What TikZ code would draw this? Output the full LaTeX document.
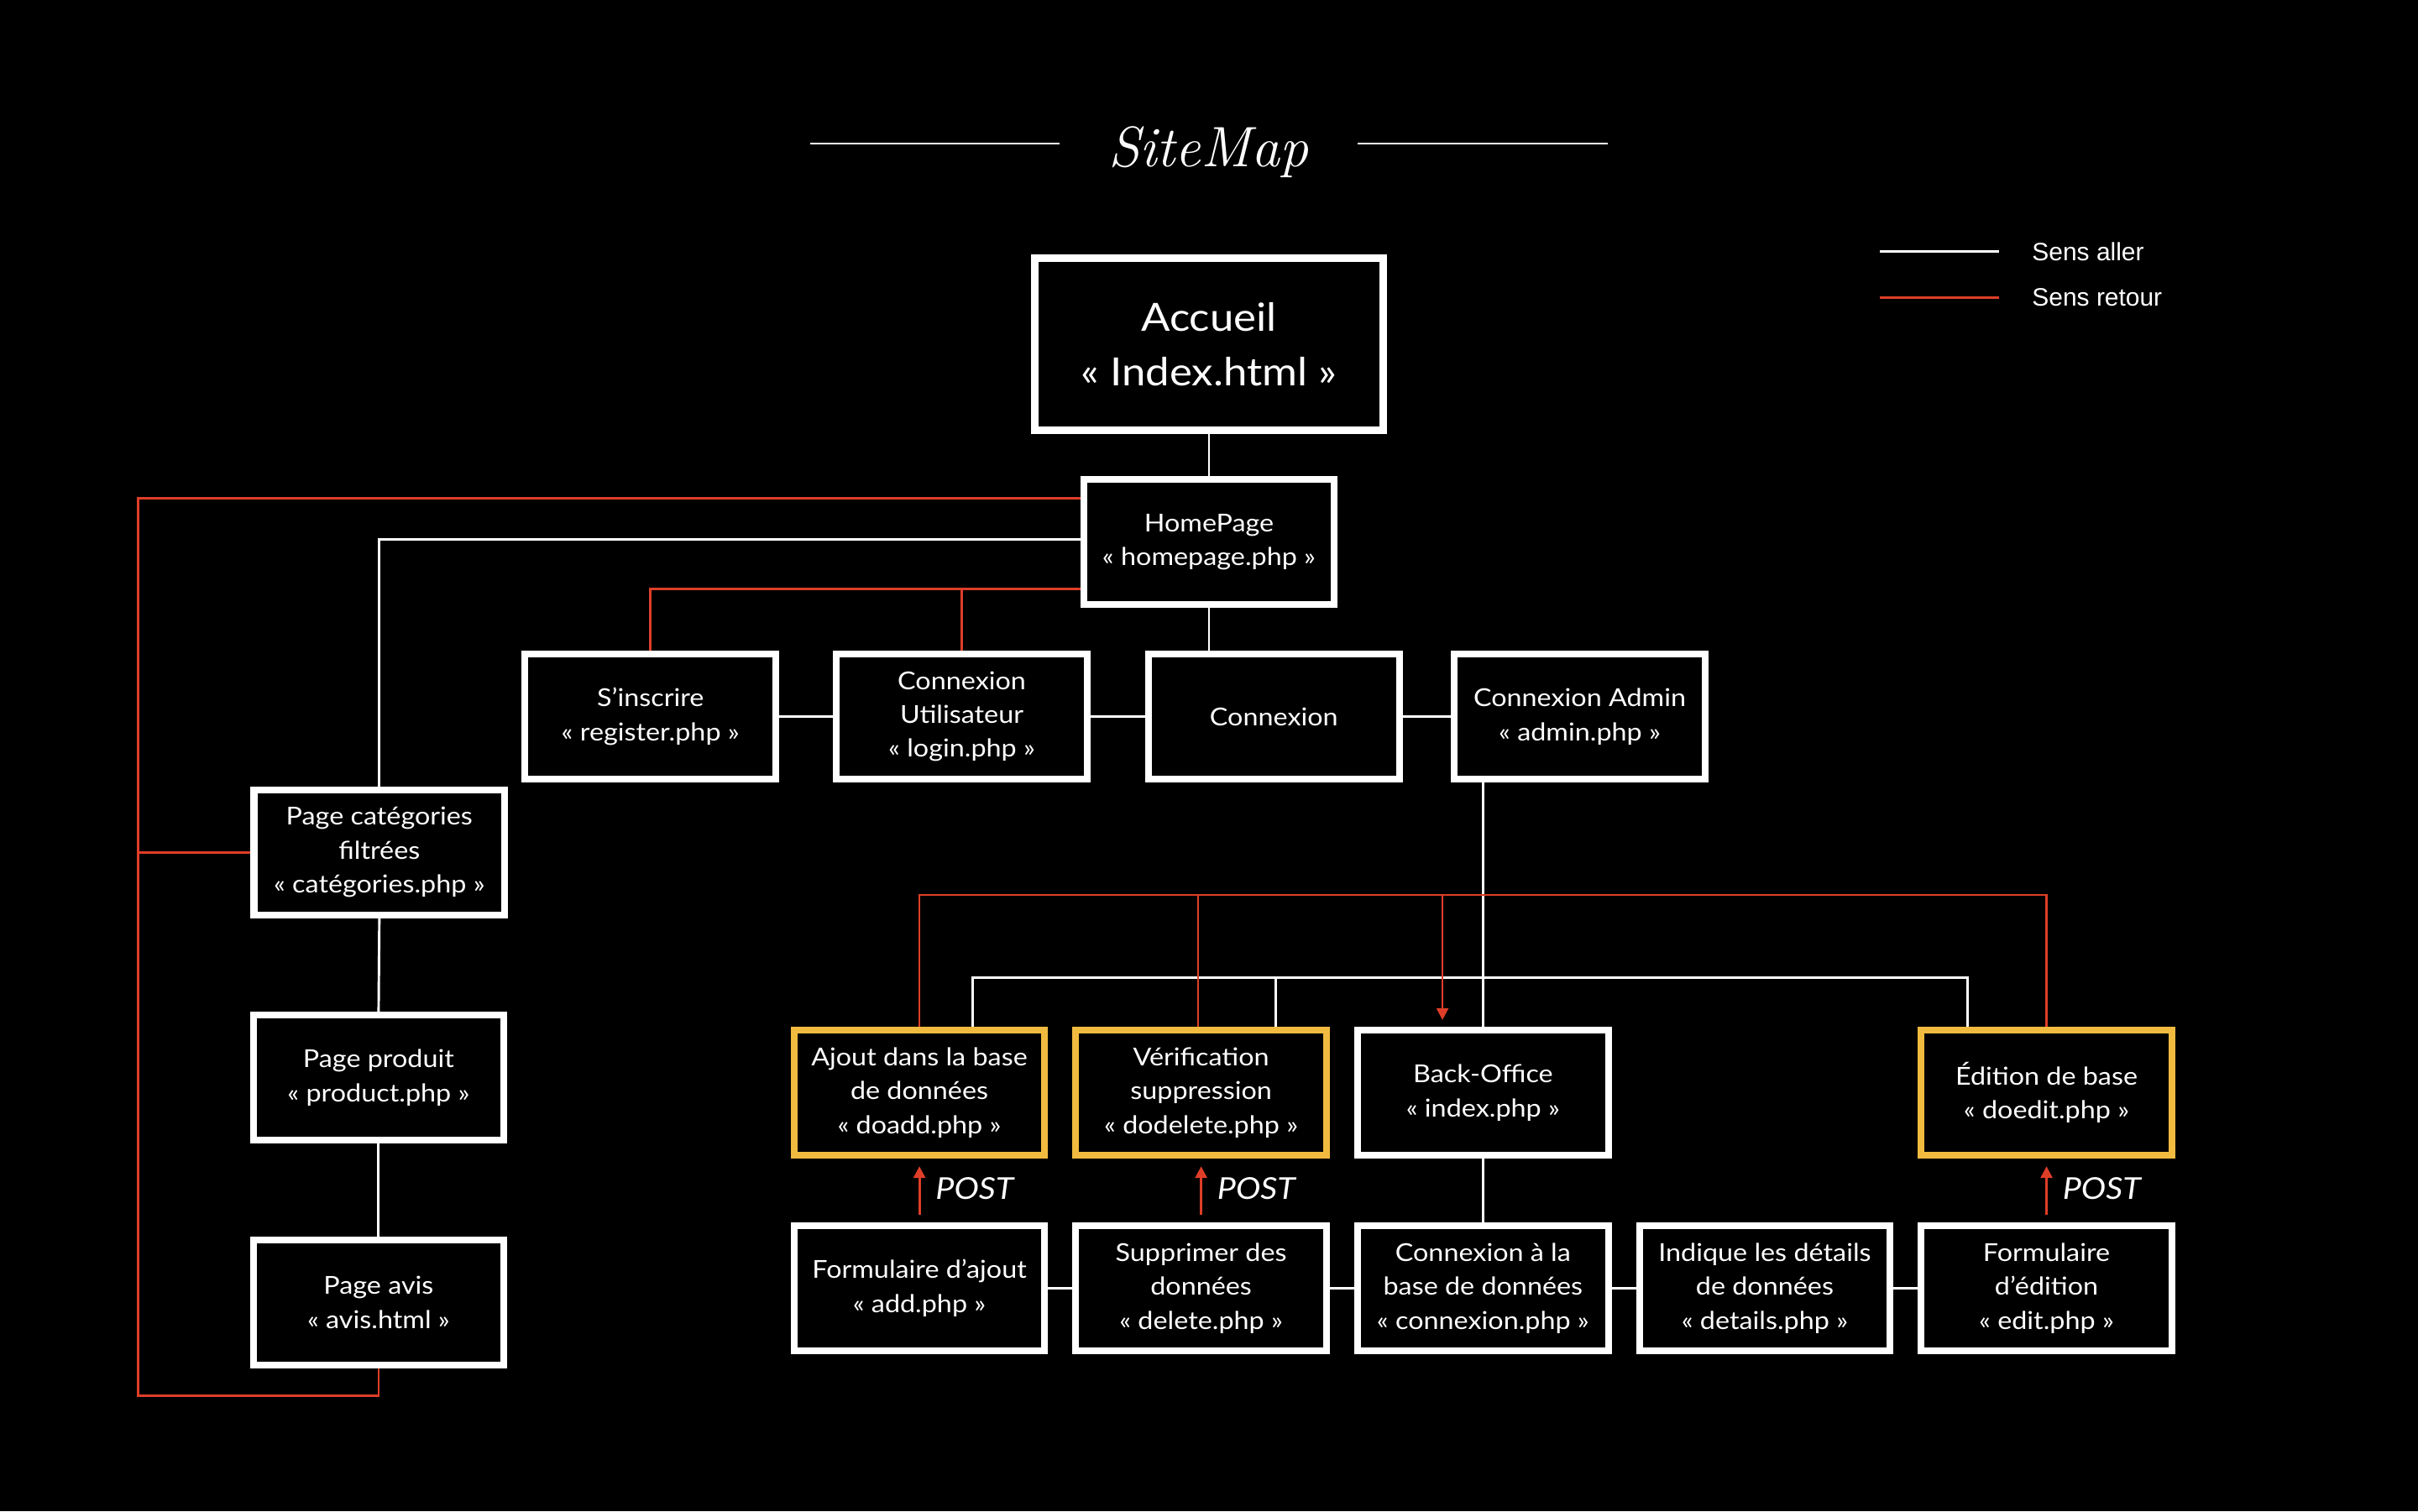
\documentclass[tikz,border=0pt]{standalone}
\usepackage{fontspec}
\setsansfont{Lato}[FakeStretch=1.1]
\newfontfamily\legendfont{Liberation Sans}
\usetikzlibrary{arrows.meta}
\definecolor{rouge}{RGB}{222,62,40}
\definecolor{jaune}{RGB}{241,187,64}
\begin{document}
\begin{tikzpicture}[x=1bp,y=-1bp,
  pagebox/.style={draw=white, line width=4.4bp, fill=black, text=white,
    minimum width=162.6bp, minimum height=81.1bp, inner sep=2bp, align=center,
    font=\sffamily\fontsize{16bp}{22bp}\selectfont},
  actionbox/.style={pagebox, draw=jaune},
  wline/.style={draw=white, line width=1.6bp},
  rline/.style={draw=rouge, line width=1.4bp},
  rarrow/.style={rline, line width=1.6bp, -{Triangle[width=7.6bp,length=7.6bp]}},
  posttext/.style={text=white, inner sep=0pt, anchor=base west,
    font=\sffamily\itshape\fontsize{19.5bp}{24bp}\selectfont},
  legendtext/.style={text=white, inner sep=0pt, anchor=base west,
    font=\legendfont\fontsize{16.3bp}{20bp}\selectfont},
]
\fill[black] (0,0) rectangle (1568,980);
\useasboundingbox (0,0) rectangle (1568,980);

% title
\node[text=white, inner sep=0pt, anchor=base,
  font=\rmfamily\itshape\fontsize{37bp}{40bp}\selectfont] (title) at (783.5,108.2) {SiteMap};
\coordinate (tl1) at (525.4,93);
\coordinate (tl2) at (687.1,93);
\coordinate (tr1) at (880.4,93);
\coordinate (tr2) at (1042.6,93);
\draw[draw=white, line width=1.3bp] (tl1) -- (tl2);
\draw[draw=white, line width=1.3bp] (tr1) -- (tr2);

% legend
\coordinate (la1) at (1219,163);
\coordinate (la2) at (1296.2,163);
\coordinate (lb1) at (1219,192.9);
\coordinate (lb2) at (1296.2,192.9);
\draw[wline] (la1) -- (la2);
\draw[rline, line width=1.6bp] (lb1) -- (lb2);
\node[legendtext] (leg1) at (1317.6,169.3) {Sens aller};
\node[legendtext] (leg2) at (1317.6,198.7) {Sens retour};

% nodes
\node[pagebox, minimum width=226bp, minimum height=111.5bp, line width=4.6bp,
  font=\sffamily\fontsize{25.2bp}{35.4bp}\selectfont] (accueil) at (784,223.2) {Accueil\\« Index.html »};
\node[pagebox] (homepage) at (784,351.4) {HomePage\\« homepage.php »};
\node[pagebox] (inscrire) at (421.8,464.7) {S’inscrire\\« register.php »};
\node[pagebox] (cu) at (623.7,464.7) {Connexion\\Utilisateur\\« login.php »};
\node[pagebox] (connexion) at (826.1,464.7) {Connexion};
\node[pagebox] (admin) at (1024.4,464.7) {Connexion Admin\\« admin.php »};
\node[pagebox] (cat) at (246,552.8) {Page catégories\\filtrées\\« catégories.php »};
\node[pagebox] (produit) at (245.5,698.8) {Page produit\\« product.php »};
\node[pagebox] (avis) at (245.5,844.7) {Page avis\\« avis.html »};
\node[actionbox] (ajout) at (596.2,708.6) {Ajout dans la base\\de données\\« doadd.php »};
\node[actionbox] (verif) at (778.9,708.6) {Vérification\\suppression\\« dodelete.php »};
\node[pagebox] (backoffice) at (961.7,708.6) {Back-Office\\« index.php »};
\node[actionbox] (edition) at (1327.1,708.6) {Édition de base\\« doedit.php »};
\node[pagebox] (form1) at (596.2,835.4) {Formulaire d’ajout\\« add.php »};
\node[pagebox] (supp) at (778.9,835.4) {Supprimer des\\données\\« delete.php »};
\node[pagebox] (conn2) at (961.7,835.4) {Connexion à la\\base de données\\« connexion.php »};
\node[pagebox] (indique) at (1144.4,835.4) {Indique les détails\\de données\\« details.php »};
\node[pagebox] (form2) at (1327.1,835.4) {Formulaire\\d’édition\\« edit.php »};

% white connectors (sens aller)
\draw[wline] (accueil.south) -- (homepage.north);
\draw[wline] (homepage.south) -- (homepage.south |- connexion.north);
\draw[wline] (inscrire.east) -- (cu.west);
\draw[wline] (cu.east) -- (connexion.west);
\draw[wline] (connexion.east) -- (admin.west);
\draw[wline] ([yshift=1.4bp]homepage.west) -| (cat.north);
\draw[wline] (cat.south) -- (produit.north);
\draw[wline] (produit.south) -- (avis.north);
\draw[wline] (admin.south -| backoffice.north) -- (backoffice.north);
\coordinate (wa) at ([xshift=34.6bp]ajout.north);
\coordinate (wbus) at ([yshift=31.9bp]wa);
\coordinate (vtop) at ([xshift=48.6bp]verif.north);
\coordinate (etop) at ([xshift=-51bp]edition.north);
\draw[wline] (wa) -- (wbus) -| (etop);
\draw[wline] (wbus -| vtop) -- (vtop);
\draw[wline] (backoffice.south) -- (conn2.north);
\draw[wline] (form1.east) -- (supp.west);
\draw[wline] (supp.east) -- (conn2.west);
\draw[wline] (conn2.east) -- (indique.west);
\draw[wline] (indique.east) -- (form2.west);

% red connectors (sens retour)
\coordinate (rl) at (89.5,905);
\draw[rline] ([yshift=28.4bp]homepage.west) -| (rl) -| (avis.south);
\draw[rline] (cat.west -| rl) -- (cat.west);
\coordinate (r2) at ([yshift=-30.4bp]homepage.west);
\draw[rline] (r2) -| (inscrire.north);
\draw[rline] (r2 -| cu.north) -- (cu.north);
\coordinate (rbus) at ([yshift=85.5bp]ajout.north);
\draw[rline] (ajout.north) -- (rbus) -| (edition.north);
\coordinate (vred) at ([xshift=-1.9bp]verif.north);
\draw[rline] (rbus -| vred) -- (vred);
\coordinate (rbo) at ([xshift=-26.3bp]backoffice.north);
\draw[rarrow, line width=1.4bp] (rbus -| rbo) -- ([yshift=4.4bp]rbo);

% POST arrows
\draw[rarrow] ([yshift=5bp]form1.north) -- ([yshift=-5bp]ajout.south);
\draw[rarrow] ([yshift=5bp]supp.north) -- ([yshift=-5bp]verif.south);
\draw[rarrow] ([yshift=5bp]form2.north) -- ([yshift=-5bp]edition.south);
\node[posttext] (post1) at ([xshift=10.3bp,yshift=14.7bp]form1.north) {POST};
\node[posttext] (post2) at ([xshift=10.3bp,yshift=14.7bp]supp.north) {POST};
\node[posttext] (post3) at ([xshift=10.3bp,yshift=14.7bp]form2.north) {POST};
\end{tikzpicture}
\end{document}
